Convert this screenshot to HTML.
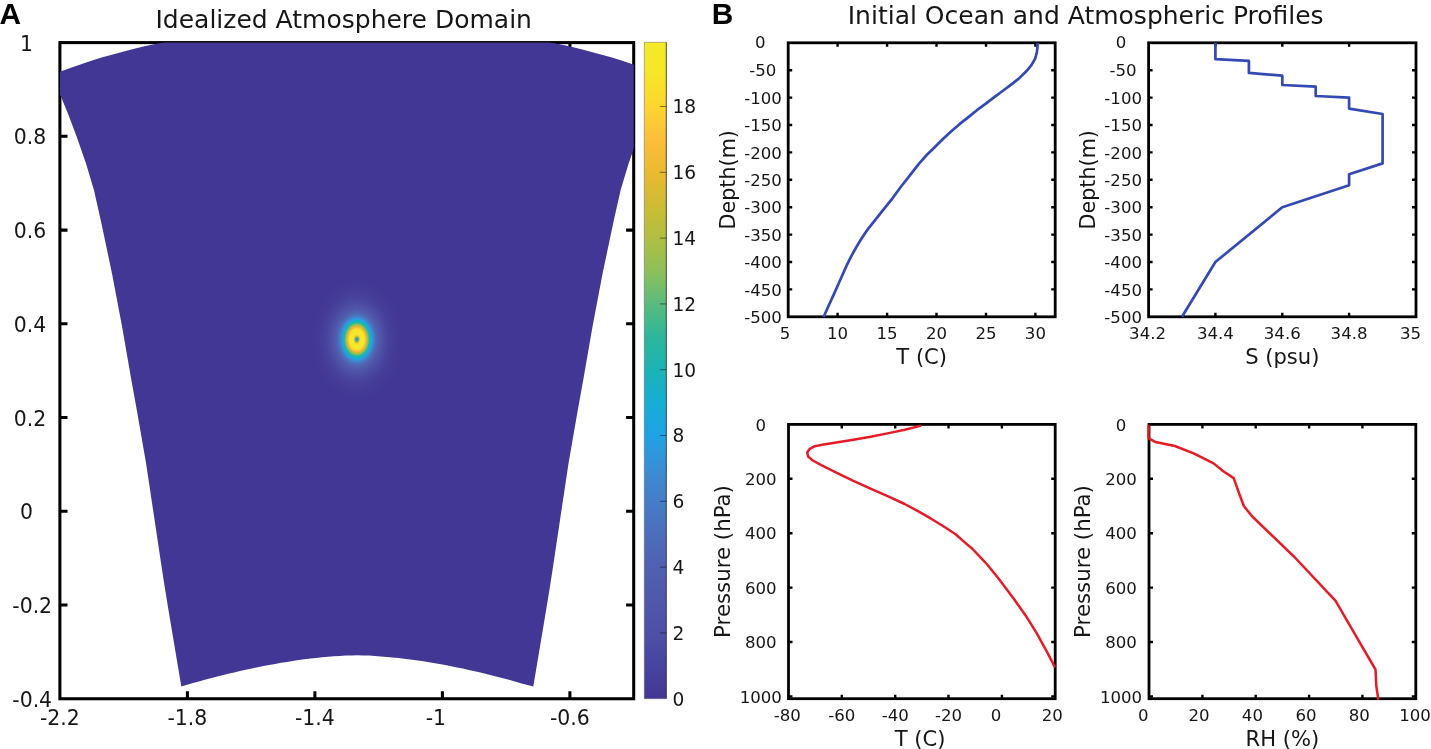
<!DOCTYPE html>
<html><head><meta charset="utf-8"><title>Idealized Atmosphere Domain</title>
<style>
html,body{margin:0;padding:0;background:#fff;}
body{width:1431px;height:749px;overflow:hidden;}
svg{display:block;}
text{font-family:"DejaVu Sans","Liberation Sans",sans-serif;fill:#161616;}
.pl{font-family:"Liberation Sans","DejaVu Sans",sans-serif;font-weight:bold;font-size:29.8px;fill:#000;}
.ta{font-size:20.4px;}
.tb{font-size:16.6px;}
.cb{font-size:18.6px;}
.ti{font-size:25px;}
.al{font-size:21.1px;}
</style></head><body>
<svg width="1431" height="749" viewBox="0 0 1431 749">
<rect width="1431" height="749" fill="#fff"/>

<defs>
<clipPath id="clipA"><rect x="59.9" y="42.6" width="573.8000000000001" height="656.15"/></clipPath>
<linearGradient id="cbg" x1="0" y1="1" x2="0" y2="0">
<stop offset="0.0000" stop-color="#423794"/>
<stop offset="0.0501" stop-color="#48449e"/>
<stop offset="0.1003" stop-color="#4e50a5"/>
<stop offset="0.1504" stop-color="#5058aa"/>
<stop offset="0.2005" stop-color="#5061b0"/>
<stop offset="0.2506" stop-color="#4c6eba"/>
<stop offset="0.3008" stop-color="#467dc7"/>
<stop offset="0.3509" stop-color="#3a8ed4"/>
<stop offset="0.4010" stop-color="#20a2e4"/>
<stop offset="0.4511" stop-color="#16aed4"/>
<stop offset="0.5013" stop-color="#1cb3b6"/>
<stop offset="0.5514" stop-color="#2eb69b"/>
<stop offset="0.6015" stop-color="#5abb7d"/>
<stop offset="0.6516" stop-color="#8ec05a"/>
<stop offset="0.7018" stop-color="#b0bf42"/>
<stop offset="0.7519" stop-color="#cebc34"/>
<stop offset="0.8020" stop-color="#eaba30"/>
<stop offset="0.8521" stop-color="#fdbe3a"/>
<stop offset="0.9023" stop-color="#fcd630"/>
<stop offset="0.9524" stop-color="#f6e628"/>
<stop offset="1.0000" stop-color="#f3ea28"/>
</linearGradient>
<radialGradient id="hur" cx="0" cy="0" r="1" gradientUnits="userSpaceOnUse" gradientTransform="translate(356.9 339.4) scale(46 61.64)">
<stop offset="0.0000" stop-color="#4c6eba"/>
<stop offset="0.0046" stop-color="#4878c2"/>
<stop offset="0.0093" stop-color="#4382cb"/>
<stop offset="0.0139" stop-color="#3b8dd3"/>
<stop offset="0.0185" stop-color="#2c99dd"/>
<stop offset="0.0231" stop-color="#1ca6de"/>
<stop offset="0.0278" stop-color="#19b1c4"/>
<stop offset="0.0324" stop-color="#29b5a2"/>
<stop offset="0.0370" stop-color="#56bb80"/>
<stop offset="0.0417" stop-color="#91c058"/>
<stop offset="0.0463" stop-color="#b1bf42"/>
<stop offset="0.0509" stop-color="#cdbc34"/>
<stop offset="0.0556" stop-color="#e8ba30"/>
<stop offset="0.0602" stop-color="#fabd39"/>
<stop offset="0.0648" stop-color="#fdc836"/>
<stop offset="0.0694" stop-color="#fcd431"/>
<stop offset="0.0741" stop-color="#fadc2d"/>
<stop offset="0.0787" stop-color="#f7e429"/>
<stop offset="0.0833" stop-color="#f5e728"/>
<stop offset="0.0880" stop-color="#f5e828"/>
<stop offset="0.0926" stop-color="#f4e828"/>
<stop offset="0.0972" stop-color="#f4e928"/>
<stop offset="0.1019" stop-color="#f3e928"/>
<stop offset="0.1065" stop-color="#f3ea28"/>
<stop offset="0.1111" stop-color="#f3ea28"/>
<stop offset="0.1157" stop-color="#f3ea28"/>
<stop offset="0.1204" stop-color="#f3e928"/>
<stop offset="0.1250" stop-color="#f3e928"/>
<stop offset="0.1296" stop-color="#f4e928"/>
<stop offset="0.1343" stop-color="#f4e928"/>
<stop offset="0.1389" stop-color="#f4e928"/>
<stop offset="0.1435" stop-color="#f4e928"/>
<stop offset="0.1481" stop-color="#f4e828"/>
<stop offset="0.1528" stop-color="#f5e728"/>
<stop offset="0.1574" stop-color="#f6e628"/>
<stop offset="0.1620" stop-color="#f7e429"/>
<stop offset="0.1667" stop-color="#f8e02b"/>
<stop offset="0.1713" stop-color="#fadb2d"/>
<stop offset="0.1759" stop-color="#fcd530"/>
<stop offset="0.1806" stop-color="#fccd34"/>
<stop offset="0.1852" stop-color="#fdc537"/>
<stop offset="0.1898" stop-color="#fcbe3a"/>
<stop offset="0.1944" stop-color="#f7bd37"/>
<stop offset="0.1991" stop-color="#f2bc34"/>
<stop offset="0.2037" stop-color="#edbb32"/>
<stop offset="0.2083" stop-color="#e5ba31"/>
<stop offset="0.2130" stop-color="#d8bb33"/>
<stop offset="0.2176" stop-color="#cabc36"/>
<stop offset="0.2222" stop-color="#bcbe3c"/>
<stop offset="0.2269" stop-color="#aebf43"/>
<stop offset="0.2315" stop-color="#a4bf4b"/>
<stop offset="0.2361" stop-color="#9ac052"/>
<stop offset="0.2407" stop-color="#8fc059"/>
<stop offset="0.2454" stop-color="#80bf63"/>
<stop offset="0.2500" stop-color="#70bd6e"/>
<stop offset="0.2546" stop-color="#60bc79"/>
<stop offset="0.2593" stop-color="#52ba82"/>
<stop offset="0.2639" stop-color="#45b98c"/>
<stop offset="0.2685" stop-color="#37b795"/>
<stop offset="0.2731" stop-color="#2cb69e"/>
<stop offset="0.2778" stop-color="#27b5a6"/>
<stop offset="0.2824" stop-color="#21b4ae"/>
<stop offset="0.2870" stop-color="#1cb3b6"/>
<stop offset="0.2917" stop-color="#1ab2be"/>
<stop offset="0.2963" stop-color="#19b0c5"/>
<stop offset="0.3009" stop-color="#17afcd"/>
<stop offset="0.3056" stop-color="#16aed4"/>
<stop offset="0.3102" stop-color="#19abd8"/>
<stop offset="0.3148" stop-color="#1ba8dc"/>
<stop offset="0.3194" stop-color="#1ea5e0"/>
<stop offset="0.3241" stop-color="#20a2e4"/>
<stop offset="0.3287" stop-color="#259ee1"/>
<stop offset="0.3333" stop-color="#2b9add"/>
<stop offset="0.3380" stop-color="#3096da"/>
<stop offset="0.3426" stop-color="#3592d7"/>
<stop offset="0.3472" stop-color="#3a8ed4"/>
<stop offset="0.3519" stop-color="#3d8ad1"/>
<stop offset="0.3565" stop-color="#3f87ce"/>
<stop offset="0.3611" stop-color="#4283cc"/>
<stop offset="0.3657" stop-color="#4480c9"/>
<stop offset="0.3704" stop-color="#467dc7"/>
<stop offset="0.3750" stop-color="#477bc5"/>
<stop offset="0.3796" stop-color="#4879c3"/>
<stop offset="0.3843" stop-color="#4977c1"/>
<stop offset="0.3889" stop-color="#4974c0"/>
<stop offset="0.3935" stop-color="#4a72be"/>
<stop offset="0.3981" stop-color="#4b70bc"/>
<stop offset="0.4028" stop-color="#4c6eba"/>
<stop offset="0.4074" stop-color="#4c6db9"/>
<stop offset="0.4120" stop-color="#4d6bb7"/>
<stop offset="0.4167" stop-color="#4e69b6"/>
<stop offset="0.4213" stop-color="#4e67b5"/>
<stop offset="0.4259" stop-color="#4f66b4"/>
<stop offset="0.4306" stop-color="#4f64b3"/>
<stop offset="0.4352" stop-color="#4f63b2"/>
<stop offset="0.4398" stop-color="#5062b1"/>
<stop offset="0.4444" stop-color="#5061b0"/>
<stop offset="0.4491" stop-color="#5060af"/>
<stop offset="0.4537" stop-color="#505faf"/>
<stop offset="0.4583" stop-color="#505eae"/>
<stop offset="0.4630" stop-color="#505dad"/>
<stop offset="0.4676" stop-color="#505cad"/>
<stop offset="0.4722" stop-color="#505bac"/>
<stop offset="0.4769" stop-color="#505bac"/>
<stop offset="0.4815" stop-color="#505aab"/>
<stop offset="0.4861" stop-color="#5059ab"/>
<stop offset="0.4907" stop-color="#5058aa"/>
<stop offset="0.4954" stop-color="#5057a9"/>
<stop offset="0.5000" stop-color="#5056a9"/>
<stop offset="0.5046" stop-color="#4f56a9"/>
<stop offset="0.5093" stop-color="#4f55a8"/>
<stop offset="0.5139" stop-color="#4f55a8"/>
<stop offset="0.5185" stop-color="#4f54a8"/>
<stop offset="0.5231" stop-color="#4f54a7"/>
<stop offset="0.5278" stop-color="#4f53a7"/>
<stop offset="0.5324" stop-color="#4f53a7"/>
<stop offset="0.5370" stop-color="#4f52a6"/>
<stop offset="0.5417" stop-color="#4e52a6"/>
<stop offset="0.5463" stop-color="#4e51a6"/>
<stop offset="0.5509" stop-color="#4e51a5"/>
<stop offset="0.5556" stop-color="#4e50a5"/>
<stop offset="0.5602" stop-color="#4e50a5"/>
<stop offset="0.5648" stop-color="#4d4fa4"/>
<stop offset="0.5694" stop-color="#4d4ea4"/>
<stop offset="0.5741" stop-color="#4d4da3"/>
<stop offset="0.5787" stop-color="#4c4da3"/>
<stop offset="0.5833" stop-color="#4c4ca3"/>
<stop offset="0.5880" stop-color="#4c4ba2"/>
<stop offset="0.5926" stop-color="#4b4ba2"/>
<stop offset="0.5972" stop-color="#4b4aa2"/>
<stop offset="0.6019" stop-color="#4b4aa1"/>
<stop offset="0.6065" stop-color="#4b49a1"/>
<stop offset="0.6111" stop-color="#4b49a1"/>
<stop offset="0.6157" stop-color="#4a49a1"/>
<stop offset="0.6204" stop-color="#4a48a0"/>
<stop offset="0.6250" stop-color="#4a48a0"/>
<stop offset="0.6296" stop-color="#4a47a0"/>
<stop offset="0.6343" stop-color="#4a47a0"/>
<stop offset="0.6389" stop-color="#4947a0"/>
<stop offset="0.6435" stop-color="#49469f"/>
<stop offset="0.6481" stop-color="#49469f"/>
<stop offset="0.6528" stop-color="#49459f"/>
<stop offset="0.6574" stop-color="#48459f"/>
<stop offset="0.6620" stop-color="#48459e"/>
<stop offset="0.6667" stop-color="#48449e"/>
<stop offset="0.6713" stop-color="#48449e"/>
<stop offset="0.6759" stop-color="#48439d"/>
<stop offset="0.6806" stop-color="#47439d"/>
<stop offset="0.6852" stop-color="#47429d"/>
<stop offset="0.6898" stop-color="#47429c"/>
<stop offset="0.6944" stop-color="#47429c"/>
<stop offset="0.6991" stop-color="#47419c"/>
<stop offset="0.7037" stop-color="#47419c"/>
<stop offset="0.7083" stop-color="#47419c"/>
<stop offset="0.7130" stop-color="#46419b"/>
<stop offset="0.7176" stop-color="#46409b"/>
<stop offset="0.7222" stop-color="#46409b"/>
<stop offset="0.7269" stop-color="#46409b"/>
<stop offset="0.7315" stop-color="#46409b"/>
<stop offset="0.7361" stop-color="#463f9a"/>
<stop offset="0.7407" stop-color="#463f9a"/>
<stop offset="0.7454" stop-color="#463f9a"/>
<stop offset="0.7500" stop-color="#463f9a"/>
<stop offset="0.7546" stop-color="#453e9a"/>
<stop offset="0.7593" stop-color="#453e9a"/>
<stop offset="0.7639" stop-color="#453e99"/>
<stop offset="0.7685" stop-color="#453e99"/>
<stop offset="0.7731" stop-color="#453e99"/>
<stop offset="0.7778" stop-color="#453d99"/>
<stop offset="0.7824" stop-color="#453d99"/>
<stop offset="0.7870" stop-color="#453d98"/>
<stop offset="0.7917" stop-color="#453d98"/>
<stop offset="0.7963" stop-color="#443c98"/>
<stop offset="0.8009" stop-color="#443c98"/>
<stop offset="0.8056" stop-color="#443c98"/>
<stop offset="0.8102" stop-color="#443c98"/>
<stop offset="0.8148" stop-color="#443b97"/>
<stop offset="0.8194" stop-color="#443b97"/>
<stop offset="0.8241" stop-color="#443b97"/>
<stop offset="0.8287" stop-color="#443b97"/>
<stop offset="0.8333" stop-color="#443b97"/>
<stop offset="0.8380" stop-color="#443b97"/>
<stop offset="0.8426" stop-color="#443b97"/>
<stop offset="0.8472" stop-color="#443a97"/>
<stop offset="0.8519" stop-color="#443a97"/>
<stop offset="0.8565" stop-color="#433a96"/>
<stop offset="0.8611" stop-color="#433a96"/>
<stop offset="0.8657" stop-color="#433a96"/>
<stop offset="0.8704" stop-color="#433a96"/>
<stop offset="0.8750" stop-color="#433a96"/>
<stop offset="0.8796" stop-color="#433a96"/>
<stop offset="0.8843" stop-color="#433a96"/>
<stop offset="0.8889" stop-color="#433996"/>
<stop offset="0.8935" stop-color="#433996"/>
<stop offset="0.8981" stop-color="#433996"/>
<stop offset="0.9028" stop-color="#433996"/>
<stop offset="0.9074" stop-color="#433996"/>
<stop offset="0.9120" stop-color="#433996"/>
<stop offset="0.9167" stop-color="#433995"/>
<stop offset="0.9213" stop-color="#433995"/>
<stop offset="0.9259" stop-color="#433995"/>
<stop offset="0.9306" stop-color="#433995"/>
<stop offset="0.9352" stop-color="#433895"/>
<stop offset="0.9398" stop-color="#433895"/>
<stop offset="0.9444" stop-color="#433895"/>
<stop offset="0.9491" stop-color="#433895"/>
<stop offset="0.9537" stop-color="#423895"/>
<stop offset="0.9583" stop-color="#423895"/>
<stop offset="0.9630" stop-color="#423895"/>
<stop offset="0.9676" stop-color="#423895"/>
<stop offset="0.9722" stop-color="#423894"/>
<stop offset="0.9769" stop-color="#423894"/>
<stop offset="0.9815" stop-color="#423794"/>
<stop offset="0.9861" stop-color="#423794"/>
<stop offset="0.9907" stop-color="#423794"/>
<stop offset="0.9954" stop-color="#423794"/>
<stop offset="1.0000" stop-color="#423794"/>
</radialGradient>
</defs>
<g stroke="#000" stroke-width="3.05" fill="none">
<rect x="59.9" y="42.6" width="573.8000000000001" height="656.15"/>
<path d="M187.4 698.75V691.15M187.4 42.6V50.2"/>
<path d="M314.9 698.75V691.15M314.9 42.6V50.2"/>
<path d="M442.4 698.75V691.15M442.4 42.6V50.2"/>
<path d="M569.9 698.75V691.15M569.9 42.6V50.2"/>
<path d="M59.9 136.3H67.5M633.7 136.3H626.1"/>
<path d="M59.9 230.1H67.5M633.7 230.1H626.1"/>
<path d="M59.9 323.8H67.5M633.7 323.8H626.1"/>
<path d="M59.9 417.5H67.5M633.7 417.5H626.1"/>
<path d="M59.9 511.3H67.5M633.7 511.3H626.1"/>
<path d="M59.9 605.0H67.5M633.7 605.0H626.1"/>
</g>
<g clip-path="url(#clipA)"><path d="M50.5 75.6 L60.7 71.5 L70.9 67.7 L81.1 64.2 L91.3 60.8 L101.5 57.6 L111.8 54.7 L122.0 51.9 L132.2 49.3 L142.4 46.8 L152.6 44.6 L162.8 42.4 L173.0 40.5 L183.2 38.6 L193.4 36.9 L203.7 35.4 L213.9 33.9 L224.1 32.6 L234.3 31.4 L244.5 30.3 L254.7 29.3 L264.9 28.5 L275.1 27.7 L285.3 27.0 L295.5 26.4 L305.8 25.9 L316.0 25.5 L326.2 25.2 L336.4 25.0 L346.6 24.9 L356.8 24.8 L367.0 24.9 L377.2 25.0 L387.4 25.2 L397.6 25.5 L407.9 25.9 L418.1 26.4 L428.3 27.0 L438.5 27.7 L448.7 28.5 L458.9 29.3 L469.1 30.3 L479.3 31.4 L489.5 32.6 L499.7 33.9 L509.9 35.4 L520.2 36.9 L530.4 38.6 L540.6 40.5 L550.8 42.4 L561.0 44.6 L571.2 46.8 L581.4 49.3 L591.6 51.9 L601.8 54.7 L612.0 57.6 L622.3 60.8 L632.5 64.2 L642.7 67.7 L652.9 71.5 L663.1 75.6 L654.8 93.7 L646.3 114.5 L637.9 136.8 L628.6 163.5 L620.6 190.2 L613.9 220.0 L602.6 273.4 L592.5 326.8 L583.2 380.2 L577.8 410.0 L568.5 463.4 L560.5 516.8 L552.5 570.2 L549.4 590.0 L546.3 609.0 L533.3 686.6 L527.4 685.1 L521.6 683.4 L515.7 681.7 L509.8 680.1 L504.0 678.5 L498.1 677.0 L492.2 675.5 L486.4 674.0 L480.5 672.6 L474.6 671.2 L468.8 669.9 L462.9 668.6 L457.0 667.4 L451.2 666.2 L445.3 665.1 L439.4 664.0 L433.6 663.0 L427.7 662.0 L421.8 661.1 L416.0 660.3 L410.1 659.5 L404.2 658.7 L398.4 658.0 L392.5 657.4 L386.6 656.9 L380.8 656.4 L374.9 656.0 L369.0 655.6 L363.2 655.4 L357.3 655.3 L351.4 655.4 L345.6 655.6 L339.7 655.9 L333.8 656.3 L328.0 656.8 L322.1 657.3 L316.2 657.9 L310.4 658.6 L304.5 659.3 L298.6 660.1 L292.8 661.0 L286.9 661.9 L281.0 662.8 L275.2 663.9 L269.3 664.9 L263.4 666.0 L257.6 667.2 L251.7 668.4 L245.8 669.7 L240.0 671.0 L234.1 672.4 L228.2 673.8 L222.4 675.2 L216.5 676.7 L210.6 678.3 L204.8 679.8 L198.9 681.5 L193.0 683.1 L187.2 684.8 L181.3 686.6 L168.3 609.0 L165.2 590.0 L162.1 570.2 L154.1 516.8 L146.1 463.4 L136.8 410.0 L131.4 380.2 L122.1 326.8 L112.0 273.4 L100.7 220.0 L94.0 190.2 L86.0 163.5 L76.7 136.8 L68.3 114.5 L59.8 93.7Z" fill="#423794"/>
<ellipse cx="356.9" cy="339.4" rx="46.0" ry="61.6" fill="url(#hur)"/></g>
<text class="ta" x="26.5" y="50.6" text-anchor="middle">1</text>
<text class="ta" x="29.9" y="144.3" text-anchor="middle">0.8</text>
<text class="ta" x="29.9" y="238.1" text-anchor="middle">0.6</text>
<text class="ta" x="29.9" y="331.8" text-anchor="middle">0.4</text>
<text class="ta" x="29.9" y="425.5" text-anchor="middle">0.2</text>
<text class="ta" x="26.5" y="519.3" text-anchor="middle">0</text>
<text class="ta" x="32.2" y="613.0" text-anchor="middle">-0.2</text>
<text class="ta" x="32.2" y="706.8" text-anchor="middle">-0.4</text>
<text class="ta" x="59.9" y="725.4" text-anchor="middle">-2.2</text>
<text class="ta" x="187.4" y="725.4" text-anchor="middle">-1.8</text>
<text class="ta" x="314.9" y="725.4" text-anchor="middle">-1.4</text>
<text class="ta" x="435.8" y="725.4" text-anchor="middle">-1</text>
<text class="ta" x="569.9" y="725.4" text-anchor="middle">-0.6</text>
<text class="ti" x="343.7" y="27.9" text-anchor="middle">Idealized Atmosphere Domain</text>
<text class="pl" x="-0.5" y="24">A</text>
<rect x="644.3" y="42.3" width="22.0" height="656.4000000000001" fill="url(#cbg)"/>
<path d="M666.3 42.3H644.3V698.7H666.3" fill="none" stroke="#556" stroke-opacity="0.45" stroke-width="1"/>
<path d="M666.3 42.3V698.7" fill="none" stroke="#222" stroke-opacity="0.8" stroke-width="1"/>
<text class="cb" x="672.5" y="705.6">0</text>
<path d="M666.3 632.9h-6.5" stroke="#0a0a20" stroke-opacity="0.5" stroke-width="1"/>
<text class="cb" x="672.5" y="639.8">2</text>
<path d="M666.3 567.1h-6.5" stroke="#0a0a20" stroke-opacity="0.5" stroke-width="1"/>
<text class="cb" x="672.5" y="574.0">4</text>
<path d="M666.3 501.3h-6.5" stroke="#0a0a20" stroke-opacity="0.5" stroke-width="1"/>
<text class="cb" x="672.5" y="508.2">6</text>
<path d="M666.3 435.5h-6.5" stroke="#0a0a20" stroke-opacity="0.5" stroke-width="1"/>
<text class="cb" x="672.5" y="442.4">8</text>
<path d="M666.3 369.7h-6.5" stroke="#0a0a20" stroke-opacity="0.5" stroke-width="1"/>
<text class="cb" x="672.5" y="376.6">10</text>
<path d="M666.3 303.9h-6.5" stroke="#0a0a20" stroke-opacity="0.5" stroke-width="1"/>
<text class="cb" x="672.5" y="310.8">12</text>
<path d="M666.3 238.1h-6.5" stroke="#0a0a20" stroke-opacity="0.5" stroke-width="1"/>
<text class="cb" x="672.5" y="245.0">14</text>
<path d="M666.3 172.3h-6.5" stroke="#0a0a20" stroke-opacity="0.5" stroke-width="1"/>
<text class="cb" x="672.5" y="179.2">16</text>
<path d="M666.3 106.5h-6.5" stroke="#0a0a20" stroke-opacity="0.5" stroke-width="1"/>
<text class="cb" x="672.5" y="113.4">18</text>
<text class="ti" x="1085.7" y="24.3" text-anchor="middle">Initial Ocean and Atmospheric Profiles</text>
<text class="pl" x="711.8" y="24">B</text>
<g stroke="#000" stroke-width="2.4" fill="none">
<rect x="788.2" y="42.8" width="267.0" height="274.0" stroke-width="2.8"/>
<path d="M837.6 316.8v-4.0M837.6 42.8v4.0"/>
<path d="M887.1 316.8v-4.0M887.1 42.8v4.0"/>
<path d="M936.5 316.8v-4.0M936.5 42.8v4.0"/>
<path d="M986.0 316.8v-4.0M986.0 42.8v4.0"/>
<path d="M1035.4 316.8v-4.0M1035.4 42.8v4.0"/>
<path d="M788.2 289.4h4.0M1055.2 289.4h-4.0"/>
<path d="M788.2 262.0h4.0M1055.2 262.0h-4.0"/>
<path d="M788.2 234.6h4.0M1055.2 234.6h-4.0"/>
<path d="M788.2 207.2h4.0M1055.2 207.2h-4.0"/>
<path d="M788.2 179.8h4.0M1055.2 179.8h-4.0"/>
<path d="M788.2 152.4h4.0M1055.2 152.4h-4.0"/>
<path d="M788.2 125.0h4.0M1055.2 125.0h-4.0"/>
<path d="M788.2 97.6h4.0M1055.2 97.6h-4.0"/>
<path d="M788.2 70.2h4.0M1055.2 70.2h-4.0"/>
</g>
<path d="M1037.8 42.8 L1037.4 48.0 L1036.8 52.6 L1035.2 58.5 L1031.6 64.9 L1026.3 71.3 L1018.8 78.6 L1011.1 84.6 L1002.6 91.0 L994.0 97.4 L985.5 103.8 L976.9 110.2 L968.4 117.1 L959.8 123.9 L951.3 131.2 L942.7 139.3 L934.2 147.8 L926.7 155.0 L918.6 164.2 L909.9 175.3 L901.1 186.5 L892.5 198.3 L884.0 208.9 L875.5 219.6 L866.9 230.4 L861.4 238.8 L856.1 247.5 L850.9 256.9 L846.6 265.6 L842.4 275.0 L838.1 284.8 L833.8 294.4 L828.5 306.0 L823.6 317.0" fill="none" stroke="#3349b3" stroke-width="2.7" stroke-linejoin="round" stroke-linecap="butt"/>
<text class="tb" x="785.0" y="339.3" text-anchor="middle">5</text>
<text class="tb" x="837.6" y="339.3" text-anchor="middle">10</text>
<text class="tb" x="887.1" y="339.3" text-anchor="middle">15</text>
<text class="tb" x="936.5" y="339.3" text-anchor="middle">20</text>
<text class="tb" x="986.0" y="339.3" text-anchor="middle">25</text>
<text class="tb" x="1035.4" y="339.3" text-anchor="middle">30</text>
<text class="tb" x="760.3" y="48.4" text-anchor="middle">0</text>
<text class="tb" x="762.8" y="76.3" text-anchor="middle">-50</text>
<text class="tb" x="763.0" y="322.9" text-anchor="middle">-500</text>
<text class="tb" x="763.0" y="295.5" text-anchor="middle">-450</text>
<text class="tb" x="763.0" y="268.1" text-anchor="middle">-400</text>
<text class="tb" x="763.0" y="240.7" text-anchor="middle">-350</text>
<text class="tb" x="763.0" y="213.3" text-anchor="middle">-300</text>
<text class="tb" x="763.0" y="185.9" text-anchor="middle">-250</text>
<text class="tb" x="763.0" y="158.5" text-anchor="middle">-200</text>
<text class="tb" x="763.0" y="131.1" text-anchor="middle">-150</text>
<text class="tb" x="763.0" y="103.7" text-anchor="middle">-100</text>
<text class="al" x="921.7" y="363.5" text-anchor="middle">T (C)</text>
<text class="al" style="font-size:20.7px" transform="translate(734.6 179.8) rotate(-90)" text-anchor="middle">Depth(m)</text>
<g stroke="#000" stroke-width="2.4" fill="none">
<rect x="1148.6" y="42.8" width="267.4000000000001" height="274.0" stroke-width="2.8"/>
<path d="M1215.4 316.8v-4.0M1215.4 42.8v4.0"/>
<path d="M1282.3 316.8v-4.0M1282.3 42.8v4.0"/>
<path d="M1349.1 316.8v-4.0M1349.1 42.8v4.0"/>
<path d="M1148.6 289.4h4.0M1416 289.4h-4.0"/>
<path d="M1148.6 262.0h4.0M1416 262.0h-4.0"/>
<path d="M1148.6 234.6h4.0M1416 234.6h-4.0"/>
<path d="M1148.6 207.2h4.0M1416 207.2h-4.0"/>
<path d="M1148.6 179.8h4.0M1416 179.8h-4.0"/>
<path d="M1148.6 152.4h4.0M1416 152.4h-4.0"/>
<path d="M1148.6 125.0h4.0M1416 125.0h-4.0"/>
<path d="M1148.6 97.6h4.0M1416 97.6h-4.0"/>
<path d="M1148.6 70.2h4.0M1416 70.2h-4.0"/>
</g>
<path d="M1215.4 42.8 L1215.4 59.2 L1248.9 60.9 L1248.9 72.9 L1282.3 75.7 L1282.3 85.0 L1315.7 86.6 L1315.7 96.0 L1349.1 97.6 L1349.1 108.6 L1382.6 114.0 L1382.6 163.4 L1349.1 174.3 L1349.1 185.3 L1282.3 207.2 L1215.4 262.0 L1182.0 316.8" fill="none" stroke="#3349b3" stroke-width="2.7" stroke-linejoin="round" stroke-linecap="butt"/>
<text class="tb" x="1147.6" y="339.3" text-anchor="middle">34.2</text>
<text class="tb" x="1215.4" y="339.3" text-anchor="middle">34.4</text>
<text class="tb" x="1282.3" y="339.3" text-anchor="middle">34.6</text>
<text class="tb" x="1349.1" y="339.3" text-anchor="middle">34.8</text>
<text class="tb" x="1410.5" y="339.3" text-anchor="middle">35</text>
<text class="tb" x="1121.0" y="48.4" text-anchor="middle">0</text>
<text class="tb" x="1123.0" y="76.3" text-anchor="middle">-50</text>
<text class="tb" x="1123.2" y="322.9" text-anchor="middle">-500</text>
<text class="tb" x="1123.2" y="295.5" text-anchor="middle">-450</text>
<text class="tb" x="1123.2" y="268.1" text-anchor="middle">-400</text>
<text class="tb" x="1123.2" y="240.7" text-anchor="middle">-350</text>
<text class="tb" x="1123.2" y="213.3" text-anchor="middle">-300</text>
<text class="tb" x="1123.2" y="185.9" text-anchor="middle">-250</text>
<text class="tb" x="1123.2" y="158.5" text-anchor="middle">-200</text>
<text class="tb" x="1123.2" y="131.1" text-anchor="middle">-150</text>
<text class="tb" x="1123.2" y="103.7" text-anchor="middle">-100</text>
<text class="al" x="1282.3" y="363.5" text-anchor="middle">S (psu)</text>
<text class="al" style="font-size:20.7px" transform="translate(1094.8 179.8) rotate(-90)" text-anchor="middle">Depth(m)</text>
<g stroke="#000" stroke-width="2.4" fill="none">
<rect x="788.5" y="424.4" width="266.70000000000005" height="274.30000000000007" stroke-width="2.8"/>
<path d="M841.8 698.7v-4.0M841.8 424.4v4.0"/>
<path d="M895.2 698.7v-4.0M895.2 424.4v4.0"/>
<path d="M948.5 698.7v-4.0M948.5 424.4v4.0"/>
<path d="M1001.9 698.7v-4.0M1001.9 424.4v4.0"/>
<path d="M788.5 478.8h4.0M1055.2 478.8h-4.0"/>
<path d="M788.5 533.2h4.0M1055.2 533.2h-4.0"/>
<path d="M788.5 587.6h4.0M1055.2 587.6h-4.0"/>
<path d="M788.5 642.0h4.0M1055.2 642.0h-4.0"/>
<path d="M788.5 696.4h4.0M1055.2 696.4h-4.0"/>
</g>
<path d="M921.2 425.6 L904.7 429.7 L887.6 433.4 L870.5 436.8 L853.4 439.8 L836.3 442.6 L823.5 444.6 L814.9 446.2 L809.8 448.8 L807.2 452.4 L808.2 456.6 L812.8 460.5 L821.3 465.1 L836.3 472.6 L853.4 480.9 L870.5 488.6 L887.6 496.2 L904.7 504.0 L917.5 510.8 L930.3 518.2 L943.0 526.0 L955.6 534.2 L965.9 543.4 L972.6 549.0 L981.4 558.4 L987.6 565.0 L996.9 576.5 L1000.4 581.0 L1013.2 598.0 L1026.1 616.2 L1036.8 633.4 L1047.4 652.6 L1055.0 667.5" fill="none" stroke="#e51c28" stroke-width="2.5" stroke-linejoin="round" stroke-linecap="butt"/>
<text class="tb" x="787.3" y="721.3" text-anchor="middle">-80</text>
<text class="tb" x="841.8" y="721.3" text-anchor="middle">-60</text>
<text class="tb" x="895.2" y="721.3" text-anchor="middle">-40</text>
<text class="tb" x="948.5" y="721.3" text-anchor="middle">-20</text>
<text class="tb" x="996.1" y="721.3" text-anchor="middle">0</text>
<text class="tb" x="1052.3" y="721.3" text-anchor="middle">20</text>
<text class="tb" x="760.8" y="430.5" text-anchor="middle">0</text>
<text class="tb" x="760.8" y="484.9" text-anchor="middle">200</text>
<text class="tb" x="760.8" y="539.3" text-anchor="middle">400</text>
<text class="tb" x="760.8" y="593.7" text-anchor="middle">600</text>
<text class="tb" x="760.8" y="648.1" text-anchor="middle">800</text>
<text class="tb" x="760.8" y="702.5" text-anchor="middle">1000</text>
<text class="al" x="920.1" y="745.6" text-anchor="middle">T (C)</text>
<text class="al" style="font-size:21.3px" transform="translate(730 561.5) rotate(-90)" text-anchor="middle">Pressure (hPa)</text>
<g stroke="#000" stroke-width="2.4" fill="none">
<rect x="1149" y="424.4" width="266.79999999999995" height="274.30000000000007" stroke-width="2.8"/>
<path d="M1202.4 698.7v-4.0M1202.4 424.4v4.0"/>
<path d="M1255.7 698.7v-4.0M1255.7 424.4v4.0"/>
<path d="M1309.1 698.7v-4.0M1309.1 424.4v4.0"/>
<path d="M1362.4 698.7v-4.0M1362.4 424.4v4.0"/>
<path d="M1149 478.8h4.0M1415.8 478.8h-4.0"/>
<path d="M1149 533.2h4.0M1415.8 533.2h-4.0"/>
<path d="M1149 587.6h4.0M1415.8 587.6h-4.0"/>
<path d="M1149 642.0h4.0M1415.8 642.0h-4.0"/>
<path d="M1149 696.4h4.0M1415.8 696.4h-4.0"/>
</g>
<path d="M1148.5 424.7 L1148.5 438.2 L1155.5 442.1 L1174.9 446.0 L1194.2 453.7 L1213.6 463.4 L1223.3 471.2 L1233.7 478.1 L1238.8 492.5 L1243.8 506.0 L1252.3 516.5 L1294.9 557.5 L1335.6 600.9 L1356.9 637.7 L1375.5 669.5 L1376.3 686.1 L1378.4 699.8" fill="none" stroke="#e51c28" stroke-width="2.5" stroke-linejoin="round" stroke-linecap="butt"/>
<text class="tb" x="1143.2" y="721.3" text-anchor="middle">0</text>
<text class="tb" x="1199.1" y="721.3" text-anchor="middle">20</text>
<text class="tb" x="1252.4" y="721.3" text-anchor="middle">40</text>
<text class="tb" x="1306.0" y="721.3" text-anchor="middle">60</text>
<text class="tb" x="1359.3" y="721.3" text-anchor="middle">80</text>
<text class="tb" x="1415.0" y="721.3" text-anchor="middle">100</text>
<text class="tb" x="1121.0" y="430.5" text-anchor="middle">0</text>
<text class="tb" x="1121.0" y="484.9" text-anchor="middle">200</text>
<text class="tb" x="1121.0" y="539.3" text-anchor="middle">400</text>
<text class="tb" x="1121.0" y="593.7" text-anchor="middle">600</text>
<text class="tb" x="1121.0" y="648.1" text-anchor="middle">800</text>
<text class="tb" x="1121.0" y="702.5" text-anchor="middle">1000</text>
<text class="al" x="1282.4" y="745.6" text-anchor="middle">RH (%)</text>
<text class="al" style="font-size:21.3px" transform="translate(1090.2 561.5) rotate(-90)" text-anchor="middle">Pressure (hPa)</text>
</svg></body></html>
